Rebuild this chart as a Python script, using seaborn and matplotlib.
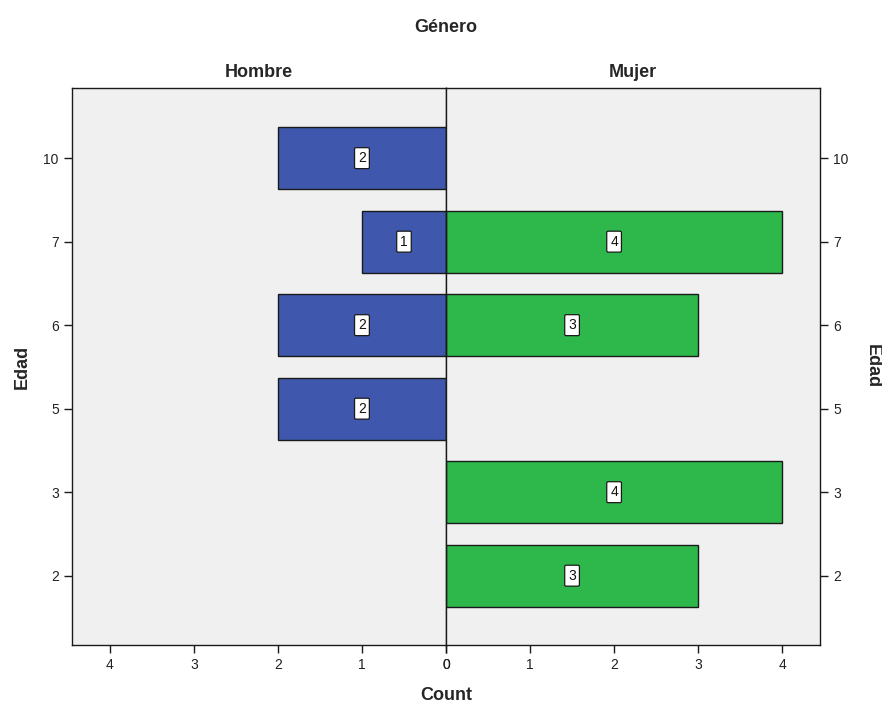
import matplotlib
matplotlib.use("Agg")
import matplotlib.pyplot as plt
import seaborn as sns
import pandas as pd

# Age groups (top to bottom) and counts per gender
edad = ["10", "7", "6", "5", "3", "2"]
hombre = [2, 1, 2, 2, 0, 0]
mujer = [0, 4, 3, 0, 4, 3]
count_ticks = [0, 1, 2, 3, 4]

sns.set_theme(style="white")
plt.rcParams["font.family"] = ["Liberation Sans Narrow", "Liberation Sans", "DejaVu Sans"]

BLUE = "#3F57AC"
GREEN = "#2EB84C"
BG = "#F0F0F0"
EDGE = "#1a1a1a"

fig = plt.figure(figsize=(8.82, 7.06), dpi=100)
left, right, bottom, top = 72 / 882, 820 / 882, 1 - 645 / 706, 1 - 88 / 706
mid = 446 / 882
ax_h = fig.add_axes([left, bottom, mid - left, top - bottom])
ax_m = fig.add_axes([mid, bottom, right - mid, top - bottom], sharey=ax_h)

panels = [(ax_h, hombre, BLUE, "Hombre"), (ax_m, mujer, GREEN, "Mujer")]
for ax, vals, color, name in panels:
    df = pd.DataFrame({"Edad": edad, "Count": vals})
    df = df[df["Count"] > 0]
    sns.barplot(data=df, x="Count", y="Edad", order=edad, orient="h",
                color=color, saturation=1, width=0.74, edgecolor=EDGE,
                linewidth=1.0, ax=ax)
    ax.set_facecolor(BG)
    for _, row in df.iterrows():
        ypos = edad.index(row["Edad"])
        ax.text(row["Count"] / 2, ypos, str(row["Count"]), ha="center", va="center",
                fontsize=10, color="#111111",
                bbox=dict(boxstyle="round,pad=0.25,rounding_size=0.1",
                          facecolor="white", edgecolor=EDGE, linewidth=0.9))
    ax.set_xticks(count_ticks)
    ax.set_xticklabels([str(t) for t in count_ticks])
    ax.set_xlabel("")
    ax.set_ylabel("")
    ax.set_title(name, fontsize=13, fontweight="bold", pad=8)
    for s in ax.spines.values():
        s.set_color(EDGE)
        s.set_linewidth(1.0)
    ax.tick_params(axis="both", direction="out", length=6, width=1, color=EDGE,
                   labelsize=10, labelcolor="#222222")

ax_h.set_xlim(4.45, 0)
ax_m.set_xlim(0, 4.45)
ax_h.set_ylim(len(edad) - 1 + 0.83, -0.84)

# Left panel: age ticks on the left; right panel: age ticks on the right
ax_h.tick_params(axis="y", left=True, labelleft=True, right=False)
ax_m.tick_params(axis="y", left=False, labelleft=False, right=True, labelright=True)
ax_h.tick_params(axis="x", bottom=True)
ax_m.tick_params(axis="x", bottom=True)

fig.text(22 / 882, (bottom + top) / 2, "Edad", rotation=90, ha="center", va="center",
         fontsize=13, fontweight="bold")
fig.text(872 / 882, (bottom + top) / 2, "Edad", rotation=-90, ha="center", va="center",
         fontsize=13, fontweight="bold")
fig.text(mid, 1 - 28 / 706, "Género", ha="center", va="center",
         fontsize=13, fontweight="bold")
fig.text(mid, 1 - 695 / 706, "Count", ha="center", va="center",
         fontsize=13, fontweight="bold")

fig.savefig("out.png", dpi=100, facecolor="white")
